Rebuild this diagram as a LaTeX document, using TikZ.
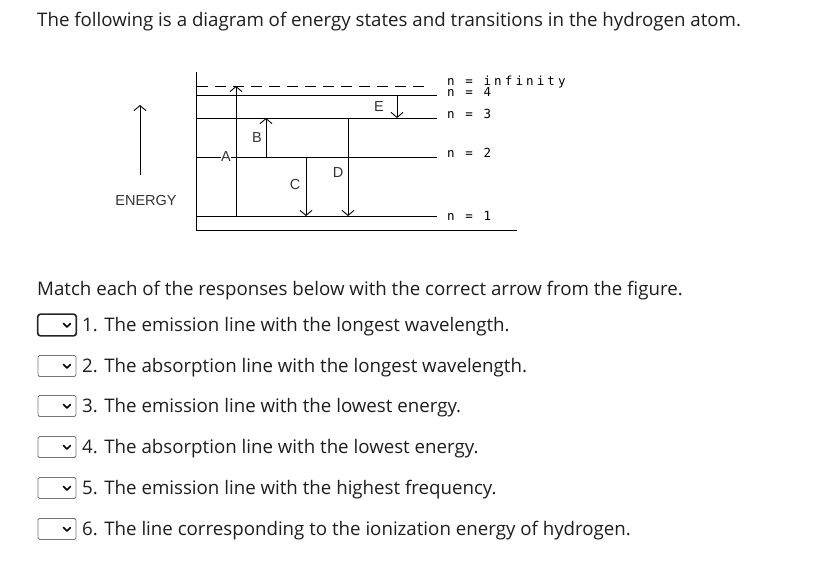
\documentclass[tikz,border=0pt]{standalone}
\usepackage{fontspec}
\setmainfont{Open Sans}
\newfontfamily\pixfont[LetterSpace=25]{DejaVu Sans Mono}
\newfontfamily\labfont{Liberation Sans}
\usepackage{xcolor}
\usetikzlibrary{positioning, arrows.meta}
\definecolor{textblack}{RGB}{30,30,30}
\definecolor{boxgray}{RGB}{118,118,118}

\begin{document}
\begin{tikzpicture}[x=1pt, y=-1pt,
  level/.style={draw=black, line width=0.9pt},
  trans/.style={draw=black, line width=0.9pt, -{Straight Barb[length=5pt, width=12pt]}},
  lvllabel/.style={font=\pixfont\fontsize{12.5}{12.5}\selectfont, anchor=west, inner sep=0pt},
  arrlabel/.style={font=\labfont\fontsize{14.5}{14.5}\selectfont, inner sep=0.5pt, text=black!80},
  qtext/.style={font=\fontsize{18.7}{21}\selectfont, anchor=west, inner sep=0pt, text=textblack},
  dropbox/.style={draw=boxgray, line width=0.8pt, rounded corners=1.5pt,
                  minimum width=38pt, minimum height=21pt, inner sep=0pt}]
  \useasboundingbox (0,0) rectangle (824,560);

  \node[qtext] (title) at (37,22)
    {The following is a diagram of energy states and transitions in the hydrogen atom.};

  % levels
  \draw[level] (196,72) -- (196,230);
  \draw[level] (196,230) -- (517,230);
  \draw[level, dash pattern=on 11pt off 7pt] (197,86) -- (425,86);
  \foreach \y in {95, 118, 157, 216}
    \draw[level] (196,\y) -- (437,\y);

  \node[lvllabel] (ninf) at (447,82) {n = infinity};
  \node[lvllabel] (n4) at (447,92) {n = 4};
  \node[lvllabel] (n3) at (447,114) {n = 3};
  \node[lvllabel] (n2) at (447,153) {n = 2};
  \node[lvllabel] (n1) at (447,216) {n = 1};

  % transitions
  \foreach \lbl/\x/\ya/\yb/\lx/\ly in {A/236/216/86/226/157, B/266/157/118/257/138,
                                        C/306/157/216/295/185, D/348/118/216/338/173,
                                        E/397/95/118/379/107} {
    \coordinate (\lbl-s) at (\x,\ya);
    \coordinate (\lbl-e) at (\x,\yb);
    \draw[trans] (\lbl-s) -- (\lbl-e);
    \node[arrlabel, fill=white] (lab\lbl) at (\lx,\ly) {\lbl};
  }

  % energy axis
  \coordinate (en-s) at (140,175);
  \coordinate (en-e) at (140,105);
  \draw[trans] (en-s) -- (en-e);
  \node[arrlabel] (energy) at (146,201) {ENERGY};

  \node[qtext] (match) at (37,291)
    {Match each of the responses below with the correct arrow from the figure.};

  % responses
  \foreach \i/\y/\txt in {1/325/The emission line with the longest wavelength.,
                          2/366/The absorption line with the longest wavelength.,
                          3/406/The emission line with the lowest energy.,
                          4/447/The absorption line with the lowest energy.,
                          5/488/The emission line with the highest frequency.,
                          6/529/The line corresponding to the ionization energy of hydrogen.} {
    \node[dropbox] (box\i) at (57,\y) {};
    \draw[line width=1.6pt, line cap=round, line join=round]
      ([xshift=-6pt,yshift=1.5pt]box\i.east) -- ([xshift=-9.5pt,yshift=-2pt]box\i.east)
      -- ([xshift=-13pt,yshift=1.5pt]box\i.east);
    \node[qtext] (item\i) at (82,\y+2) {\i. \txt};
  }
  \draw[black!85, line width=1.6pt, rounded corners=3pt]
    (box1.south west) rectangle (box1.north east);
\end{tikzpicture}
\end{document}
